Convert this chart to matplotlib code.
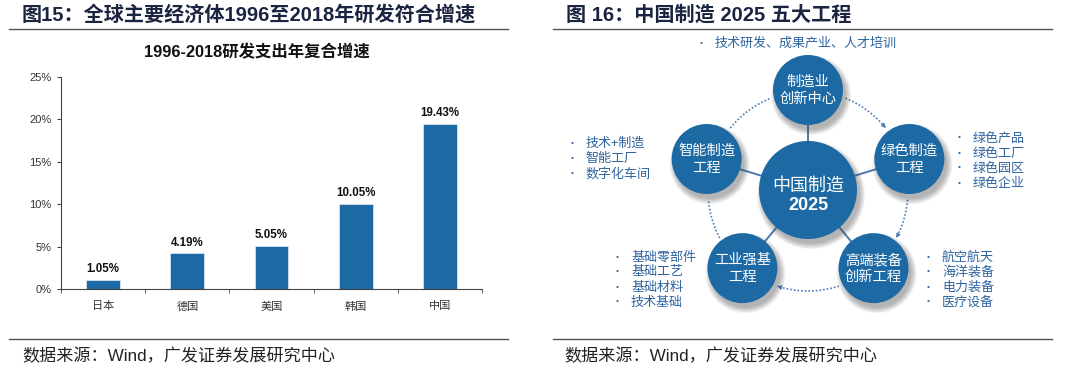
import numpy as np
import matplotlib
matplotlib.use("Agg")
import matplotlib.pyplot as plt
from matplotlib.patches import Circle

# ---------------- data ----------------
categories = ['日本', '德国', '美国', '韩国', '中国']
growth = [1.05, 4.19, 5.05, 10.05, 19.43]
yticks = [0, 5, 10, 15, 20, 25]

left_title = '图15：全球主要经济体1996至2018年研发符合增速'
right_title = '图 16：中国制造 2025 五大工程'
chart_title = '1996-2018研发支出年复合增速'
source_text = '数据来源：Wind，广发证券发展研究中心'

center_label = ['中国制造', '2025']
node_labels = [['制造业', '创新中心'], ['绿色制造', '工程'], ['高端装备', '创新工程'],
               ['工业强基', '工程'], ['智能制造', '工程']]
top_items = ['技术研发、成果产业、人才培训']
left_items = ['技术+制造', '智能工厂', '数字化车间']
right_items = ['绿色产品', '绿色工厂', '绿色园区', '绿色企业']
bl_items = ['基础零部件', '基础工艺', '基础材料', '技术基础']
br_items = ['航空航天', '海洋装备', '电力装备', '医疗设备']

CJK = ['Noto Sans CJK SC', 'DejaVu Sans']
LAT = ['Liberation Sans', 'Noto Sans CJK SC', 'DejaVu Sans']
plt.rcParams['font.family'] = CJK

BLUE = '#1c69a4'
TXTBLUE = '#2f64a0'
TITLE = '#1b2440'

W, H = 1080, 372
fig = plt.figure(figsize=(W / 100, H / 100), dpi=100)

# overlay axes in pixel coordinates
ov = fig.add_axes([0, 0, 1, 1])
ov.set_xlim(0, W)
ov.set_ylim(H, 0)
ov.axis('off')

# ---------------- headers / footers ----------------
ov.text(22, 15, left_title, fontsize=14.5, fontweight='bold', color=TITLE,
        va='center', ha='left', family=LAT)
ov.text(566, 15, right_title, fontsize=14.5, fontweight='bold', color=TITLE,
        va='center', ha='left', family=LAT)
for x0, x1 in [(9, 508), (553, 1052)]:
    ov.plot([x0, x1], [29, 29], color='#555555', lw=1.0)
    ov.plot([x0, x1], [339, 339], color='#555555', lw=1.0)
ov.text(22, 356, source_text, fontsize=12.3, color='#222222', va='center', ha='left', family=LAT)
ov.text(564, 356, source_text, fontsize=12.3, color='#222222', va='center', ha='left', family=LAT)

ov.text(257, 52, chart_title, fontsize=11.8, fontweight='bold', color='#111111',
        va='center', ha='center', family=LAT)

# ---------------- bar chart ----------------
ax = fig.add_axes([61 / W, (H - 289) / H, (482 - 61) / W, (289 - 77) / H])
ax.patch.set_alpha(0)
x = np.arange(len(categories))
ax.bar(x, growth, width=0.4, color=BLUE, edgecolor='#d8e4f0', linewidth=0.6, zorder=2)
for xi, v in zip(x, growth):
    ax.annotate(f'{v:.2f}%', (xi, v), xytext=(0, 3.5), textcoords='offset points',
                ha='center', va='bottom', fontsize=8.3, fontweight='bold',
                family=LAT, color='#111111')
ax.set_xlim(-0.5, len(categories) - 0.5)
ax.set_ylim(0, 25)
ax.set_yticks(yticks)
ax.set_yticklabels([f'{t}%' for t in yticks], family=LAT, fontsize=8, color='#333333')
ax.set_xticks(x)
ax.set_xticklabels(categories, fontsize=8, color='#333333')
ax.set_xticks(np.arange(len(categories) + 1) - 0.5, minor=True)
ax.tick_params(axis='x', which='major', length=0, pad=9)
ax.tick_params(axis='x', which='minor', length=3, direction='out', color='#444444')
ax.tick_params(axis='y', length=3, direction='out', pad=4, color='#444444')
for s in ['top', 'right']:
    ax.spines[s].set_visible(False)
for s in ['left', 'bottom']:
    ax.spines[s].set_color('#444444')
    ax.spines[s].set_linewidth(0.8)

# ---------------- diagram ----------------
cx, cy = 808, 190
Rc, Ro = 49, 35
angles = [90, 17, -50, -130, 163]  # top, right, bottom-right, bottom-left, left
radii = [100, 106, 102, 102, 106]
nodes = [(cx + r * np.cos(np.radians(a)), cy - r * np.sin(np.radians(a)))
         for a, r in zip(angles, radii)]


def shadow(x0, y0, r):
    for k in range(8):
        ov.add_patch(Circle((x0 + 3, y0 + 5), r + 5 - k * 0.8, color='#444444',
                            alpha=0.06, lw=0, zorder=3))


# connectors
for (nx, ny) in nodes:
    ov.plot([cx, nx], [cy, ny], color='#4a78b2', lw=1.4, zorder=2)

# dotted ring with arrows
Rd = 100
gap = 22
arc_col = '#4a7bb7'
for i in range(5):
    a0 = angles[i] - gap
    a1 = angles[(i + 1) % 5] + gap
    if a1 > a0:
        a1 -= 360
    th = np.radians(np.linspace(a0, a1, 60))
    px = cx + Rd * np.cos(th)
    py = cy - Rd * np.sin(th) + 1
    ov.plot(px, py, color=arc_col, lw=1.2, ls=(0, (1, 1.2)), zorder=2)
    if i < 3:
        ov.annotate('', xy=(px[-1], py[-1]), xytext=(px[-4], py[-4]),
                    arrowprops=dict(arrowstyle='-|>', color=arc_col, lw=0.8,
                                    mutation_scale=6, shrinkA=0, shrinkB=0), zorder=2)

# circles
shadow(cx, cy, Rc)
ov.add_patch(Circle((cx, cy), Rc, color=BLUE, zorder=4, lw=0))
ov.text(cx, cy - 4, center_label[0], fontsize=13, color='white', ha='center', va='center', zorder=5)
ov.text(cx, cy + 16, center_label[1], fontsize=13, fontweight='bold', color='white',
        ha='center', va='center', family=LAT, zorder=5)
for (nx, ny), lab in zip(nodes, node_labels):
    shadow(nx, ny, Ro)
    ov.add_patch(Circle((nx, ny), Ro, color=BLUE, zorder=4, lw=0))
    ov.text(nx, ny - 8, lab[0], fontsize=10.3, color='white', ha='center', va='center', zorder=5)
    ov.text(nx, ny + 9, lab[1], fontsize=10.3, color='white', ha='center', va='center', zorder=5)


def bullets(items, bx, tx, y0, dy, fs=9.4):
    for j, t in enumerate(items):
        yy = y0 + j * dy
        ov.text(bx, yy, '•', fontsize=6, color=TXTBLUE, ha='center', va='center', family=LAT)
        ov.text(tx, yy, t, fontsize=fs, color=TXTBLUE, ha='left', va='center')


bullets(top_items, 701, 715, 43, 15)
bullets(left_items, 572, 586, 143, 15.5)
bullets(right_items, 959, 973, 138, 15)
bullets(bl_items, 617, 631, 257, 15)
bullets(br_items, 928, 942, 257, 15)

fig.savefig('out.png', dpi=100)
